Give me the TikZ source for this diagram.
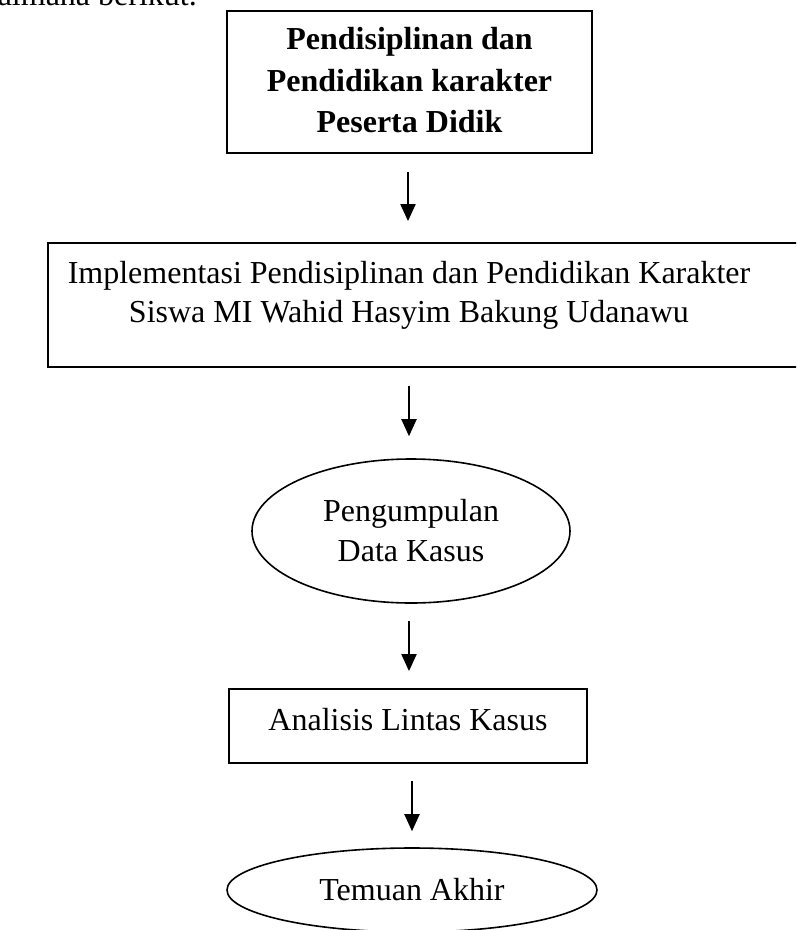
\documentclass[tikz,border=0pt]{standalone}
\usepackage{fontspec}
\setmainfont{Liberation Serif}
\usetikzlibrary{arrows.meta,shapes.geometric}
\begin{document}
\begin{tikzpicture}[x=1pt,y=-1pt,
  every node/.style={font=\fontsize{32}{40}\selectfont},
  boxstyle/.style={draw, line width=1.8pt, rectangle, inner sep=0pt, align=center},
  ellstyle/.style={draw, line width=1.6pt, ellipse, inner sep=0pt, align=center},
  arr/.style={line width=2pt, -{Triangle[length=17pt,width=15pt]}}]
\useasboundingbox (0,0) rectangle (796,930);
\clip (0,0) rectangle (796,930);
\node[anchor=base east, inner sep=0pt] (intro) at (197,5) {gaimana berikut.};
\node[boxstyle, minimum width=365pt, minimum height=142pt,
      font=\bfseries\fontsize{32}{41.7}\selectfont] (b1) at (409.5,82)
      {Pendisiplinan dan\\Pendidikan karakter\\Peserta Didik\rule[-4pt]{0pt}{4pt}};
\node[boxstyle, minimum width=770pt, minimum height=124pt, anchor=west] (b2) at (47,305) {};
\node[align=center, inner sep=0pt, font=\fontsize{32}{39}\selectfont] (b2t) at (409,295)
      {Implementasi Pendisiplinan dan Pendidikan Karakter\\Siswa MI Wahid Hasyim Bakung Udanawu};
\node[ellstyle, minimum width=318pt, minimum height=144pt] (e1) at (411,531)
      {Pengumpulan\\Data Kasus};
\node[boxstyle, minimum width=358pt, minimum height=74pt] (b3) at (408,726)
      {Analisis Lintas Kasus\rule[-14pt]{0pt}{14pt}};
\node[ellstyle, minimum width=370pt, minimum height=84pt] (e2) at (412,890)
      {Temuan Akhir};
\draw[arr, shorten <=18pt, shorten >=21pt] ([xshift=-1.5pt]b1.south) -- ([xshift=-1.5pt]b1.south |- b2.north);
\draw[arr, shorten <=18pt, shorten >=22pt] (b2.south -| b2t.center) -- (b2t.center |- e1.north);
\draw[arr, shorten <=17pt, shorten >=17pt] ([xshift=-2pt]e1.south) -- ([xshift=-2pt]e1.south |- b3.north);
\draw[arr, shorten <=17pt, shorten >=16pt] ([xshift=4pt]b3.south) -- ([xshift=4pt]b3.south |- e2.north);
\end{tikzpicture}
\end{document}
